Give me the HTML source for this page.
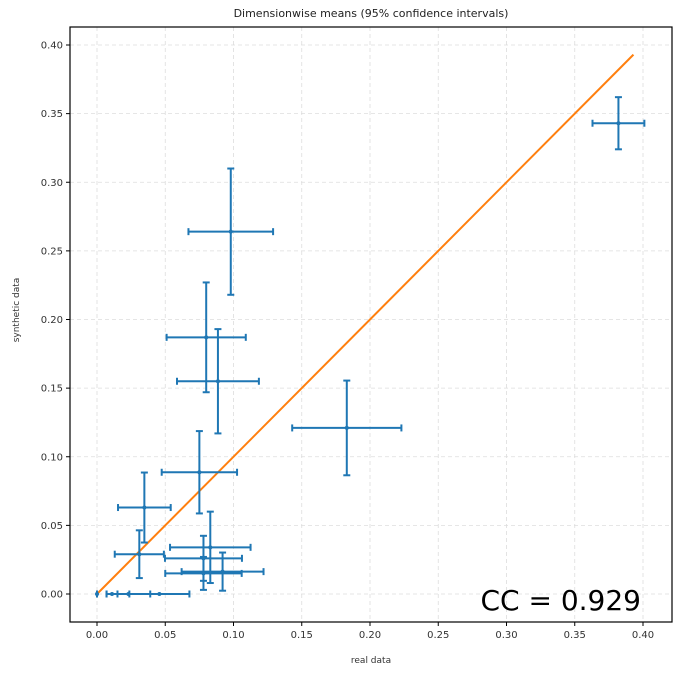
<!DOCTYPE html>
<html><head><meta charset="utf-8"><style>
body{margin:0;background:#fff;}
svg{display:block;font-family:"DejaVu Sans","Liberation Sans",sans-serif;}
</style></head><body>
<svg id="chart" width="692" height="673"></svg>
<script>
const realX=[0.075,0.0347,0.031,0.083,0.078,0.092,0.078,0.0,0.011,0.023,0.0457,0.098,0.080,0.0886,0.183,0.382];
const realErr=[0.0276,0.0193,0.018,0.0295,0.0282,0.030,0.028,0.0,0.004,0.016,0.022,0.031,0.029,0.030,0.040,0.019];
const synthY=[0.0887,0.063,0.029,0.034,0.026,0.0163,0.015,0.0,0.0,0.0,0.0,0.264,0.187,0.155,0.121,0.343];
const synthErr=[0.030,0.0255,0.0174,0.026,0.0164,0.0139,0.012,0.0,0.0,0.0,0.0,0.046,0.040,0.038,0.0345,0.019];
const ticks=[0,0.05,0.10,0.15,0.20,0.25,0.30,0.35,0.40];
const tickLabels=["0.00","0.05","0.10","0.15","0.20","0.25","0.30","0.35","0.40"];
const lineEnds=[0,0.393];
const ccLabel="CC = 0.929";

const svg=document.getElementById('chart');
const NS="http://www.w3.org/2000/svg";
const L=70,T=27,R=672,B=622;
const X=v=>97+v*1365;
const Y=v=>594-v*1372.5;
function mk(tag,at,parent){const e=document.createElementNS(NS,tag);for(const k in at)e.setAttribute(k,at[k]);(parent||svg).appendChild(e);return e;}

let t=mk('text',{x:371,y:17,'text-anchor':'middle','font-size':11,fill:'#222'});
t.textContent="Dimensionwise means (95% confidence intervals)";



ticks.forEach((v,i)=>{
  let g=mk('line',{x1:X(v),x2:X(v),y1:T,y2:B,stroke:'#ddd','stroke-dasharray':'4,3','stroke-width':0.8});
  
  
  g=mk('line',{x1:L,x2:R,y1:Y(v),y2:Y(v),stroke:'#ddd','stroke-dasharray':'4,3','stroke-width':0.8});
  
  
  mk('line',{x1:X(v),x2:X(v),y1:B,y2:B+4,stroke:'#000'});
  mk('line',{x1:L-4,x2:L,y1:Y(v),y2:Y(v),stroke:'#000'});
  let a=mk('text',{x:X(v),y:B+16,'text-anchor':'middle','font-size':10,fill:'#333'});
  a.textContent=tickLabels[i];
  
  
  a=mk('text',{x:L-7,y:Y(v)+3.5,'text-anchor':'end','font-size':10,fill:'#333'});
  a.textContent=tickLabels[i];
  
  
});

let ln=mk('line',{x1:X(lineEnds[0]),y1:Y(lineEnds[0]),x2:X(lineEnds[1]),y2:Y(lineEnds[1]),stroke:'#ff7f0e','stroke-width':2});



const blue='#1f77b4';
realX.forEach((x,i)=>{
  const y=synthY[i],ex=realErr[i],ey=synthErr[i];
  const g=mk('g',{stroke:blue,'stroke-width':2});
  
  
  mk('line',{x1:X(x-ex),x2:X(x+ex),y1:Y(y),y2:Y(y)},g);
  mk('line',{x1:X(x-ex),x2:X(x-ex),y1:Y(y)-3.5,y2:Y(y)+3.5},g);
  mk('line',{x1:X(x+ex),x2:X(x+ex),y1:Y(y)-3.5,y2:Y(y)+3.5},g);
  if(ey>0){
    mk('line',{x1:X(x),x2:X(x),y1:Y(y-ey),y2:Y(y+ey)},g);
    mk('line',{x1:X(x)-3.5,x2:X(x)+3.5,y1:Y(y-ey),y2:Y(y-ey)},g);
    mk('line',{x1:X(x)-3.5,x2:X(x)+3.5,y1:Y(y+ey),y2:Y(y+ey)},g);
  }
  mk('circle',{cx:X(x),cy:Y(y),r:2,fill:blue,stroke:'none'},g);
});

let fr=mk('rect',{x:L,y:T,width:R-L,height:B-T,fill:'none',stroke:'#000','stroke-width':1.2});



let xl=mk('text',{x:371,y:663,'text-anchor':'middle','font-size':9,fill:'#333'});
xl.textContent="real data";


let yl=mk('text',{x:19,y:310,'text-anchor':'middle','font-size':9,fill:'#333',transform:'rotate(-90 19 310)'});
yl.textContent="synthetic data";



let cc=mk('text',{x:641,y:610,'text-anchor':'end','font-size':28,fill:'#000'});
cc.textContent=ccLabel;


</script>
</body></html>
